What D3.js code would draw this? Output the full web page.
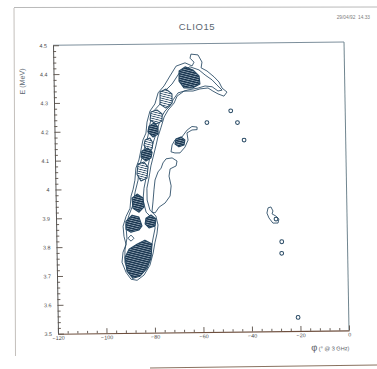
<!DOCTYPE html>
<html>
<head>
<meta charset="utf-8">
<script src="https://cdn.jsdelivr.net/npm/d3@7"></script>
<style>
  html, body { margin: 0; padding: 0; background: #fff; }
  svg { display: block; }
</style>
</head>
<body>
<svg id="chart" width="377" height="369"></svg>
<script>
// ---- text -------------------------------------------------------------
const runTitle = "CLIO15";
const runStamp = "29/04/92  14.33";
const yTitle = "E (MeV)";
const xTitleSymbol = "\u03C6";
const xTitleRest = " (\u00B0 @ 3 GHz)";

// ---- axes -------------------------------------------------------------
const phiDomain = [-120, 0];
const energyDomain = [3.5, 4.5];
const phiTicks = [-120, -100, -80, -60, -40, -20, 0];
const phiTickLabels = ["\u2212120", "\u2212100", "\u221280", "\u221260", "\u221240", "\u221220", "0"];
const phiMinorStep = 4;
const energyTicks = [3.5, 3.6, 3.7, 3.8, 3.9, 4.0, 4.1, 4.2, 4.3, 4.4, 4.5];
const energyTickLabels = ["3.5", "3.6", "3.7", "3.8", "3.9", "4", "4.1", "4.2", "4.3", "4.4", "4.5"];
const energyMinorStep = 0.02;

// ---- contour lines, [phase (deg), energy (MeV)] -----------------------
// lowest level around the main (left) band, with the hook at its top
const bandOutline = [
  [-69.4,4.423],[-72.0,4.389],[-74.5,4.355],[-77.0,4.331],[-78.4,4.293],[-80.5,4.268],
  [-81.8,4.230],[-82.3,4.192],[-83.6,4.168],[-84.5,4.133],[-85.4,4.099],[-86.7,4.071],
  [-87.2,4.029],[-88.0,3.998],[-88.9,3.974],[-89.4,3.932],[-91.1,3.904],[-92.4,3.870],
  [-92.1,3.835],[-91.3,3.807],[-92.6,3.780],[-93.1,3.745],[-91.5,3.710],[-89.5,3.686],
  [-87.0,3.682],[-84.1,3.700],[-81.6,3.734],[-80.2,3.776],[-79.4,3.811],[-78.5,3.842],
  [-78.0,3.873],[-78.8,3.904],[-81.2,3.925],[-82.3,3.960],[-82.3,4.001],[-81.4,4.036],
  [-80.5,4.078],[-79.6,4.106],[-78.3,4.147],[-77.4,4.178],[-76.1,4.210],[-74.7,4.247],
  [-73.0,4.271],[-70.5,4.295],[-69.2,4.319],[-66.3,4.336],[-62.6,4.336],[-59.7,4.343],
  [-56.4,4.346],[-54.4,4.335],[-52.3,4.325],[-49.9,4.317],[-48.6,4.331],[-50.6,4.345],
  [-51.8,4.366],[-53.8,4.384],[-56.7,4.405],[-59.1,4.416],[-58.7,4.436],[-60.3,4.461],
  [-63.2,4.464],[-63.6,4.450],[-62.0,4.436],[-62.8,4.423],[-65.7,4.434]
];
// next level inside the main band
const bandInner = [
  [-67.8,4.403],[-71.2,4.361],[-74.2,4.337],[-76.3,4.292],[-79.3,4.265],[-80.6,4.223],
  [-81.5,4.182],[-82.8,4.147],[-84.1,4.106],[-85.4,4.074],[-85.9,4.029],[-87.2,3.988],
  [-88.2,3.943],[-89.9,3.908],[-91.2,3.873],[-90.9,3.828],[-91.8,3.787],[-91.9,3.745],
  [-90.3,3.707],[-87.4,3.696],[-84.5,3.714],[-82.4,3.745],[-81.1,3.787],[-80.1,3.828],
  [-79.2,3.863],[-80.4,3.897],[-82.8,3.918],[-84.0,3.960],[-83.5,4.001],[-82.6,4.036],
  [-81.7,4.078],[-80.8,4.109],[-79.9,4.147],[-78.6,4.178],[-77.3,4.213],[-76.0,4.244],
  [-74.3,4.268],[-72.2,4.285],[-70.9,4.306],[-68.8,4.330],[-64.7,4.340],[-60.5,4.346],
  [-57.6,4.353],[-54.7,4.350],[-52.3,4.335],[-50.6,4.338],[-52.7,4.356],[-54.7,4.374],
  [-57.5,4.391],[-60.0,4.409],[-63.7,4.420]
];
// second (right) branch
const sideBranch = [
  [-75.5,4.088],[-74.2,4.102],[-71.7,4.105],[-69.7,4.094],[-70.1,4.077],[-72.6,4.067],
  [-73.1,4.042],[-72.3,4.008],[-72.8,3.973],[-74.9,3.949],[-77.4,3.935],[-79.1,3.915],
  [-80.4,3.918],[-79.9,3.953],[-79.4,3.995],[-78.9,4.029],[-77.6,4.057],[-76.3,4.070]
];
// tongue between the branches
const tongue = [
  [-61.2,4.211],[-63.3,4.213],[-65.3,4.201],[-67.5,4.177],[-70.4,4.167],[-71.6,4.150],
  [-72.1,4.126],[-70.5,4.122],[-68.4,4.122],[-66.3,4.142],[-65.0,4.166],[-65.4,4.191],
  [-63.3,4.201],[-61.2,4.202]
];
const tongueCore = [
  [-70.0,4.170],[-67.9,4.177],[-66.3,4.167],[-66.7,4.149],[-68.8,4.143],[-70.4,4.153]
];
// hooked island on the right
const rightIsland = [
  [-32.5,3.928],[-31.3,3.931],[-30.5,3.917],[-30.9,3.907],[-29.3,3.899],[-28.1,3.889],
  [-28.5,3.875],[-30.6,3.875],[-32.2,3.893],[-33.0,3.910]
];
const diamond = [[-89.2,3.839],[-88.0,3.828],[-89.2,3.818],[-90.5,3.828]];

// high-density cores (many closely packed levels)
const coreTop    = [[-68.2,4.406],[-65.7,4.420],[-62.5,4.409],[-60.0,4.388],[-59.7,4.360],[-62.6,4.347],[-66.3,4.347],[-68.3,4.371]];
const core2      = [[-76.2,4.334],[-73.7,4.344],[-71.3,4.327],[-71.3,4.295],[-73.9,4.278],[-76.3,4.292]];
const core3      = [[-80.1,4.265],[-77.6,4.272],[-75.5,4.258],[-75.6,4.233],[-78.1,4.223],[-80.5,4.237]];
const core4      = [[-81.0,4.216],[-78.9,4.227],[-77.3,4.213],[-77.3,4.188],[-79.4,4.178],[-81.5,4.196]];
const core5      = [[-82.7,4.168],[-80.7,4.175],[-79.5,4.157],[-79.9,4.137],[-82.0,4.133],[-83.2,4.150]];
const core6      = [[-84.1,4.130],[-81.6,4.140],[-79.9,4.126],[-80.4,4.106],[-82.5,4.095],[-84.5,4.109]];
const core7      = [[-85.8,4.085],[-83.3,4.092],[-81.7,4.074],[-82.2,4.036],[-84.7,4.026],[-86.3,4.050]];
const core8      = [[-88.5,3.967],[-86.4,3.981],[-84.0,3.967],[-83.6,3.936],[-85.7,3.918],[-88.2,3.932]];
const core9      = [[-91.2,3.887],[-88.6,3.908],[-85.8,3.901],[-84.6,3.870],[-85.9,3.856],[-89.2,3.849],[-91.2,3.859]];
const core10     = [[-82.9,3.897],[-80.8,3.908],[-78.8,3.894],[-79.2,3.870],[-81.7,3.863],[-83.3,3.877]];
const coreBottom = [[-91.8,3.762],[-90.1,3.790],[-86.8,3.807],[-83.5,3.821],[-80.6,3.807],[-81.1,3.759],[-82.8,3.724],[-85.8,3.696],[-88.7,3.689],[-91.1,3.714]];
const denseCores = [coreTop, core4, core6, core8, core9, core10, coreBottom];
const lightCores = [core2, core3, core5, core7];

// single-level rings
const ringPhi    = [-47.2, -57.1, -44.5, -41.9, -27.1, -27.2, -20.9, -29.3];
const ringEnergy = [4.266, 4.226, 4.225, 4.164, 3.810, 3.770, 3.547, 3.889];

// ---- drawing ----------------------------------------------------------
const W = 292, H = 290;
const svg = d3.select("#chart");
const ink = "#244661";

// page edges
svg.append("line").attr("x1", 14).attr("y1", 7.5).attr("x2", 377).attr("y2", 7)
  .attr("stroke", "#b9b9b9").attr("stroke-width", 1);
svg.append("line").attr("x1", 14).attr("y1", 8).attr("x2", 15.5).attr("y2", 356)
  .attr("stroke", "#c4c0bc").attr("stroke-width", 1);
svg.append("line").attr("x1", 150).attr("y1", 368).attr("x2", 377).attr("y2", 365)
  .attr("stroke", "#8a7260").attr("stroke-width", 1.2);

svg.append("text").attr("x", 197).attr("y", 30)
  .attr("text-anchor", "middle").attr("font-family", "Liberation Sans, Arial, sans-serif")
  .attr("font-size", 9.5).attr("letter-spacing", 0.6).attr("fill", "#5a6670").text(runTitle);
svg.append("text").attr("x", 370).attr("y", 19)
  .attr("text-anchor", "end").attr("font-family", "Liberation Sans, Arial, sans-serif")
  .attr("font-size", 4.8).attr("fill", "#7d7d7d").attr("xml:space", "preserve").text(runStamp);

// packed contour levels are rendered as a fine line texture
const defs = svg.append("defs");
function texture(id, bg, fg, band) {
  const p = defs.append("pattern").attr("id", id).attr("patternUnits", "userSpaceOnUse")
    .attr("width", 2.2).attr("height", 2.2).attr("patternTransform", "rotate(15)");
  p.append("rect").attr("width", 2.2).attr("height", 2.2).attr("fill", bg);
  p.append("rect").attr("width", 2.2).attr("height", band).attr("fill", fg);
}
texture("packed", "#8fa2b2", "#13304b", 1.35);
texture("loose", "#ffffff", "#2a4965", 0.8);

// the plot frame sits slightly skewed on the sheet
const g = svg.append("g").attr("transform", "matrix(0.9966,-0.0113,0.01724,0.9945,53,45.3)");

const x = d3.scaleLinear().domain(phiDomain).range([0, W]);
const y = d3.scaleLinear().domain(energyDomain).range([H, 0]);

// frame
g.append("line").attr("x1", 0).attr("y1", 0).attr("x2", W).attr("y2", 0).attr("stroke", "#7d8f9c").attr("stroke-width", 1);
g.append("line").attr("x1", W).attr("y1", 0).attr("x2", W).attr("y2", H).attr("stroke", "#70858f").attr("stroke-width", 1);

const tickFont = "Liberation Sans, Arial, sans-serif";
const phiMinor = d3.range(phiDomain[0], phiDomain[1] + 0.001, phiMinorStep).filter(v => !phiTicks.some(t => Math.abs(t - v) < 1e-6));
const energyMinor = d3.range(energyDomain[0], energyDomain[1] + 1e-6, energyMinorStep)
  .filter(v => !energyTicks.some(t => Math.abs(t - v) < 1e-6));

const xAxis = g.append("g").attr("transform", `translate(0,${H})`)
  .call(d3.axisBottom(x).tickValues(phiTicks).tickSizeInner(-5).tickSizeOuter(0).tickPadding(3)
    .tickFormat((d, i) => phiTickLabels[i]));
g.append("g").attr("transform", `translate(0,${H})`)
  .call(d3.axisBottom(x).tickValues(phiMinor).tickSizeInner(-2.5).tickSizeOuter(0).tickFormat(""))
  .select(".domain").remove();

const yAxis = g.append("g")
  .call(d3.axisLeft(y).tickValues(energyTicks).tickSizeInner(-6).tickSizeOuter(0).tickPadding(6)
    .tickFormat((d, i) => energyTickLabels[i]));
g.append("g")
  .call(d3.axisLeft(y).tickValues(energyMinor).tickSizeInner(-3).tickSizeOuter(0).tickFormat(""))
  .select(".domain").remove();

xAxis.select(".domain").attr("stroke", "#6e4f3e").attr("stroke-width", 1.1);
yAxis.select(".domain").attr("stroke", "#555").attr("stroke-width", 1);
g.selectAll(".tick line").attr("stroke", "#5a5048").attr("stroke-width", 0.9);
g.selectAll(".tick text").attr("font-family", tickFont).attr("font-size", 5.4).attr("fill", "#4a4a4a");
xAxis.selectAll(".tick text").attr("dy", "0.6em");

// axis titles
g.append("text").attr("transform", `translate(-29,36) rotate(-90)`)
  .attr("text-anchor", "middle").attr("font-family", tickFont).attr("font-size", 7.2)
  .attr("fill", "#5b6670").text(yTitle);
const xt = g.append("text").attr("x", W).attr("y", H + 20).attr("text-anchor", "end")
  .attr("font-family", tickFont).attr("fill", "#5b5d66");
xt.append("tspan").attr("font-size", 9.5).text(xTitleSymbol);
xt.append("tspan").attr("font-size", 5.6).text(xTitleRest);

// contours
const line = d3.line().x(d => x(d[0])).y(d => y(d[1])).curve(d3.curveLinearClosed);
const cont = g.append("g").attr("fill", "none").attr("stroke", ink).attr("stroke-width", 0.85)
  .attr("stroke-linejoin", "round");

[bandOutline, bandInner, sideBranch, tongue, rightIsland, diamond].forEach(c =>
  cont.append("path").attr("d", line(c)));

lightCores.forEach(c =>
  cont.append("path").attr("d", line(c)).attr("fill", "url(#loose)").attr("stroke-width", 1));
denseCores.concat([tongueCore]).forEach(c =>
  cont.append("path").attr("d", line(c)).attr("fill", "url(#packed)").attr("stroke-width", 1.1));

cont.selectAll("circle.ring").data(ringPhi).join("circle").attr("class", "ring")
  .attr("cx", (d) => x(d)).attr("cy", (d, i) => y(ringEnergy[i])).attr("r", 1.9)
  .attr("stroke-width", 1);
</script>
</body>
</html>
